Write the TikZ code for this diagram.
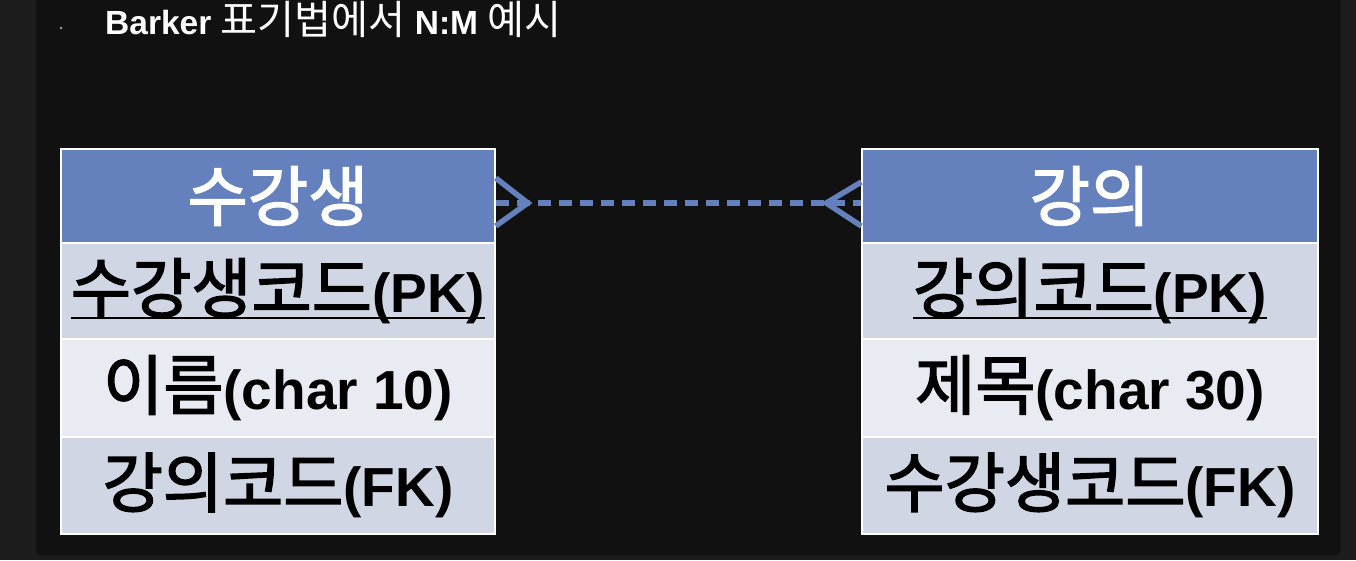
\documentclass[tikz,border=0pt]{standalone}
\usepackage{fontspec}
\setmainfont{Liberation Sans}
\newfontfamily\kr{Noto Sans CJK KR}[Scale=1.19, BoldFont=Noto Sans CJK KR, BoldFeatures={FakeBold=2.2}]
\newfontfamily\krt{Noto Sans CJK KR}[Scale=1.2]
\usetikzlibrary{calc}
\definecolor{bgout}{HTML}{1C1C1C}
\definecolor{panel}{HTML}{111111}
\definecolor{headblue}{HTML}{6481BD}
\definecolor{rowa}{HTML}{D0D6E4}
\definecolor{rowb}{HTML}{E9EBF2}
\newcommand\myul[1]{\setbox0=\hbox{#1}\rlap{\rule[-7pt]{\wd0}{2.2pt}}\box0}
\tikzset{
  cell/.style={rectangle, inner sep=0pt, draw=white, line width=1.5pt,
    font=\fontsize{55}{60}\selectfont\bfseries, text=black},
  headcell/.style={cell, fill=headblue, text=white},
  rowacell/.style={cell, fill=rowa},
  rowbcell/.style={cell, fill=rowb},
  leftw/.style={minimum width=434pt},
  rightw/.style={minimum width=456pt},
  relline/.style={draw=headblue, line width=5.5pt},
  reldash/.style={relline, dash pattern=on 13pt off 8pt},
}
\begin{document}
\begin{tikzpicture}[x=1pt,y=-1pt]
\useasboundingbox (0,0) rectangle (1356,560);
\fill[bgout] (0,0) rectangle (1356,560);
\fill[panel, rounded corners=4pt] (36,-10) rectangle (1340,555);
\fill[gray!70] (61,28) circle (1.3pt);
\node[anchor=base west, inner sep=0pt, text=white, font=\fontsize{33.5}{36}\selectfont] (title) at (105,34)
  {\bfseries Barker\mdseries\ {\krt 표기법에서} \bfseries N:M\mdseries\ {\krt 예시}};
% left entity
\node[headcell, leftw, minimum height=94pt] (shead) at (278,196) {\kr 수강생};
\node[rowacell, leftw, minimum height=96pt] (s1) at (278,291) {\myul{{\kr 수강생코드}(PK)}};
\node[rowbcell, leftw, minimum height=98pt] (s2) at (278,388) {{\kr 이름}(char 10)};
\node[rowacell, leftw, minimum height=97pt] (s3) at (278,485.5) {{\kr 강의코드}(FK)};
% right entity
\node[headcell, rightw, minimum height=94pt] (khead) at (1090,196) {\kr 강의};
\node[rowacell, rightw, minimum height=96pt] (k1) at (1090,291) {\myul{{\kr 강의코드}(PK)}};
\node[rowbcell, rightw, minimum height=98pt] (k2) at (1090,388) {{\kr 제목}(char 30)};
\node[rowacell, rightw, minimum height=97pt] (k3) at (1090,485.5) {{\kr 수강생코드}(FK)};
% relationship
\draw[reldash] ($(shead.east)+(0,7)$) -- ($(khead.west)+(0,7)$);
\draw[relline] ($(shead.east)+(0,-18)$) -- ($(shead.east)+(32,7)$) -- ($(shead.east)+(0,30)$);
\draw[relline] ($(khead.west)+(0,-14)$) -- ($(khead.west)+(-35,7)$) -- ($(khead.west)+(0,30)$);
\end{tikzpicture}
\end{document}
